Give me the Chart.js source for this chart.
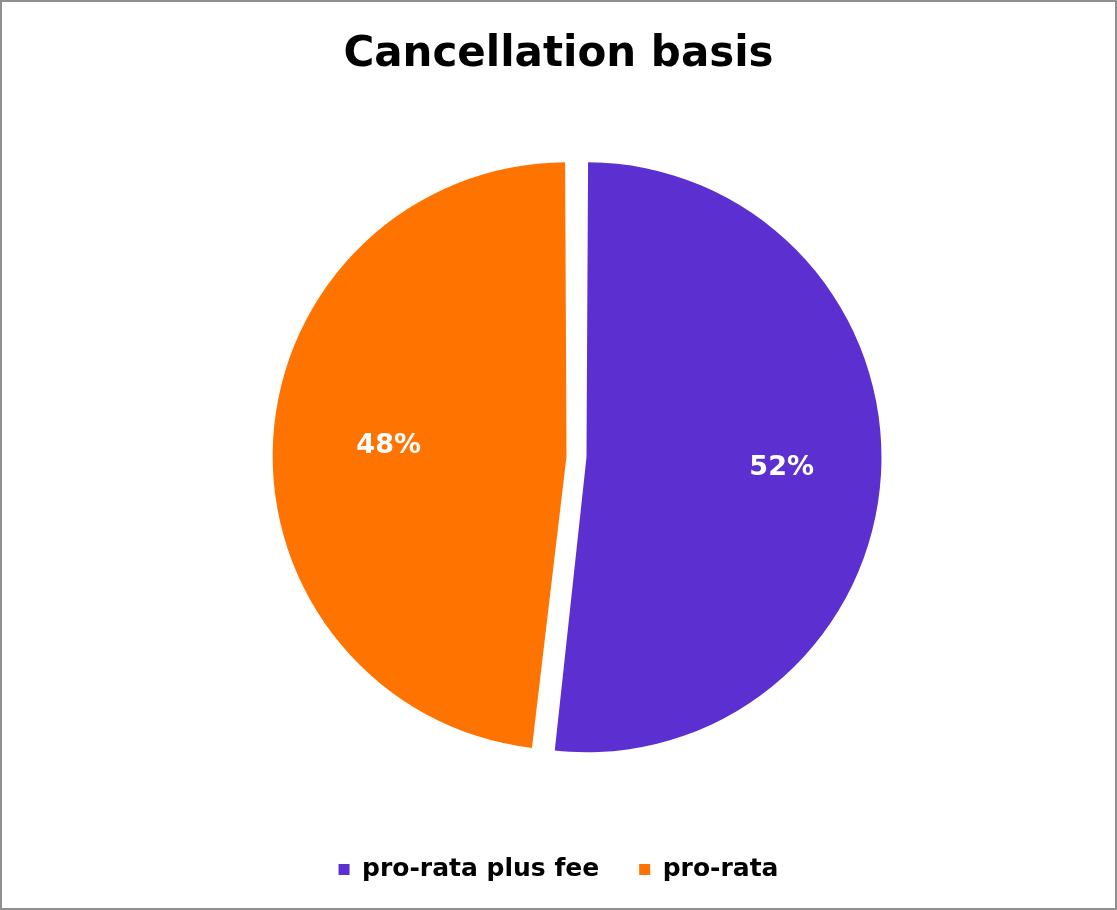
<!DOCTYPE html>
<html>
<head>
<meta charset="utf-8">
<script src="https://cdn.jsdelivr.net/npm/chart.js@4"></script>
<style>
  html, body { margin: 0; padding: 0; background: #ffffff; }
  #wrap {
    width: 1117px; height: 910px; box-sizing: border-box;
    border: 2px solid #8f8f8f; background: #ffffff;
  }
  #chart { display: block; }
</style>
</head>
<body>
<div id="wrap"><canvas id="chart" width="1113" height="906"></canvas></div>
<script>
// Dati del grafico
const categories = ["pro-rata plus fee", "pro-rata"];
const percentages = [51.8, 48.2];
const sliceColors = ["#5b2fd0", "#ff7300"];

// Sposta la torta un po' a destra (titolo e legenda restano centrati)
const shiftPie = {
  id: "shiftPie",
  afterLayout(chart) {
    chart.chartArea.left += 36;
    chart.chartArea.width = chart.chartArea.right - chart.chartArea.left;
  },
};

// Etichette percentuali dentro le fette
const labelRadius = [0.686, 0.625];
const sliceLabels = {
  id: "sliceLabels",
  afterDatasetsDraw(chart) {
    const ctx = chart.ctx;
    const meta = chart.getDatasetMeta(0);
    ctx.save();
    ctx.fillStyle = "#ffffff";
    ctx.font = "bold 27px 'DejaVu Sans'";
    ctx.textAlign = "center";
    ctx.textBaseline = "middle";
    meta.data.forEach(function (arc, i) {
      const p = arc.getProps(["x", "y", "startAngle", "endAngle", "outerRadius"], true);
      const mid = (p.startAngle + p.endAngle) / 2;
      const r = 10 + p.outerRadius * labelRadius[i];
      ctx.fillText(Math.round(percentages[i]) + "%", p.x + Math.cos(mid) * r, p.y + Math.sin(mid) * r);
    });
    ctx.restore();
  },
};

const ctx = document.getElementById("chart").getContext("2d");
new Chart(ctx, {
  type: "pie",
  data: {
    labels: categories,
    datasets: [
      {
        data: percentages,
        backgroundColor: sliceColors,
        borderWidth: 0,
        offset: 40,
        radius: 285,
      },
    ],
  },
  options: {
    responsive: false,
    animation: false,
    layout: { padding: { left: 0, right: 0, top: 0, bottom: 16 } },
    plugins: {
      title: {
        display: true,
        text: "Cancellation basis",
        color: "#000000",
        font: { family: "'DejaVu Sans'", size: 42, weight: "bold" },
        padding: { top: 28, bottom: 16 },
      },
      legend: {
        position: "bottom",
        labels: {
          color: "#000000",
          font: { family: "'DejaVu Sans'", size: 25, weight: "bold" },
          boxWidth: 11,
          boxHeight: 11,
          padding: 40,
        },
      },
      tooltip: { enabled: false },
    },
  },
  plugins: [shiftPie, sliceLabels],
});
</script>
</body>
</html>
